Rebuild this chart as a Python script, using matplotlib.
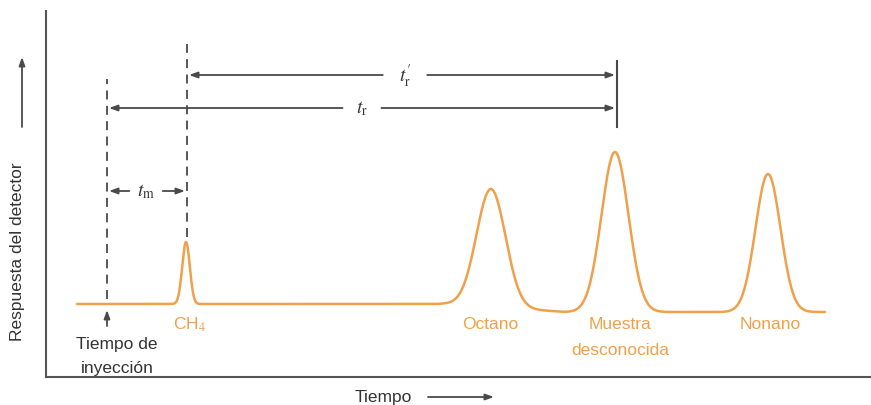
import matplotlib.pyplot as plt
import numpy as np

plt.rcParams['font.family'] = ['Liberation Sans', 'DejaVu Sans']
plt.rcParams['mathtext.fontset'] = 'stix'

# picos del cromatograma (tiempo, altura sobre la linea base, ancho)
peak_names = ['CH$_4$', 'Octano', 'Muestra\ndesconocida', 'Nonano']
peak_time = [140, 445, 569, 722]
peak_height = [62, 118, 160, 138]
peak_width = [3.8, 14.5, 13.5, 12.5]

# linea base (deriva ligera)
base_time = [31, 400, 520, 779]
base_level = [73, 73, 65, 65]

t_inyeccion = 61
t_muestra = 569

orange = '#F0A04B'
gray = '#4a4a4a'
txt = '#333333'

t = np.linspace(base_time[0], base_time[-1], 2000)
signal = np.interp(t, base_time, base_level)
for tc, h, w in zip(peak_time, peak_height, peak_width):
    signal = signal + h * np.exp(-0.5 * ((t - tc) / w) ** 2)

fig = plt.figure(figsize=(8.71, 4.06), dpi=100)
ax = fig.add_axes([46 / 871, 28 / 406, 825 / 871, 366 / 406])
ax.set_xlim(0, 825)
ax.set_ylim(0, 366)
ax.set_xticks([])
ax.set_yticks([])
for s in ['top', 'right']:
    ax.spines[s].set_visible(False)
for s in ['left', 'bottom']:
    ax.spines[s].set_color('#555555')
    ax.spines[s].set_linewidth(1.5)

# cromatograma
ax.plot(t, signal, color=orange, lw=1.8, solid_capstyle='round')

# lineas discontinuas
ax.plot([t_inyeccion, t_inyeccion], [78, 298], color=gray, lw=1.3, ls=(0, (5, 3.5)))
ax.plot([peak_time[0] + 1, peak_time[0] + 1], [140, 333], color=gray, lw=1.3, ls=(0, (5, 3.5)))
ax.plot([t_muestra + 2, t_muestra + 2], [250, 316], color=gray, lw=1.5)

arrow = dict(arrowstyle='-|>,head_length=0.5,head_width=0.18', color=gray, lw=1.3,
             shrinkB=0)


def dim(x0, x1, y, xl, label, gap):
    ax.annotate('', xy=(x0, y), xytext=(xl, y), arrowprops=dict(arrow, shrinkA=gap),
                annotation_clip=False)
    ax.annotate('', xy=(x1, y), xytext=(xl, y), arrowprops=dict(arrow, shrinkA=gap),
                annotation_clip=False)
    ax.text(xl, y, label, ha='center', va='center', fontsize=14, color=txt)


dim(peak_time[0] + 3, t_muestra, 302, 359, r"$t^{\prime}_{\rm r}$", 16)
dim(t_inyeccion + 2, t_muestra, 269, 316, r"$t_{\rm r}$", 14)
dim(t_inyeccion + 2, peak_time[0] - 1, 186, 100, r"$t_{\rm m}$", 12)

# flecha de inyeccion
ax.annotate('', xy=(t_inyeccion, 67), xytext=(t_inyeccion, 51),
            arrowprops=dict(arrow, shrinkA=0), annotation_clip=False)
ax.text(t_inyeccion + 10, 33, 'Tiempo de', ha='center', va='center', fontsize=12.5, color=txt)
ax.text(t_inyeccion + 10, 9, 'inyección', ha='center', va='center', fontsize=12.5, color=txt)

# etiquetas de los picos
label_x = [144, 444, 574, 724]
for name, x in zip(peak_names, label_x):
    for i, line in enumerate(name.split('\n')):
        ax.text(x, 53 - 26 * i, line, ha='center', va='center',
                fontsize=12.5, color=orange)

# ejes
ax.text(-28, 126, 'Respuesta del detector', rotation=90, ha='center', va='center',
        fontsize=12.5, color=txt)
ax.annotate('', xy=(-24, 320), xytext=(-24, 250), arrowprops=dict(arrow, shrinkA=0),
            annotation_clip=False)
ax.text(337, -20, 'Tiempo', ha='center', va='center', fontsize=12.5, color=txt)
ax.annotate('', xy=(448, -20), xytext=(382, -20), arrowprops=dict(arrow, shrinkA=0),
            annotation_clip=False)

fig.savefig('out.png', dpi=100)
